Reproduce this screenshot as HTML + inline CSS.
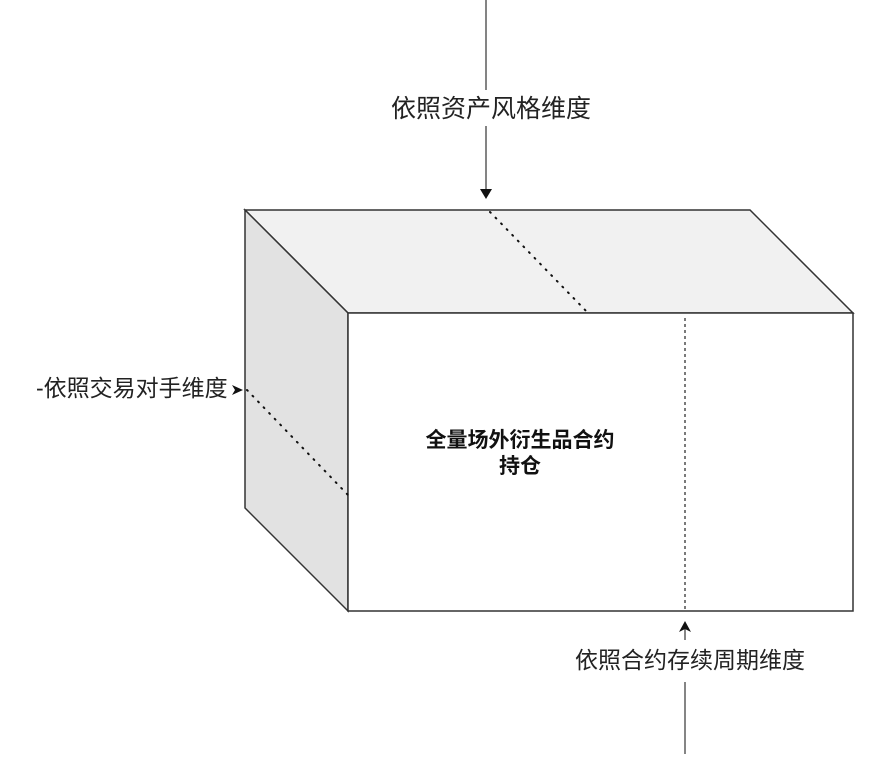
<!DOCTYPE html>
<html><head><meta charset="utf-8"><style>
body{margin:0;background:#fff;}
svg text{font-family:"Liberation Sans","Noto Sans CJK SC",sans-serif;}
</style></head><body>
<svg width="870" height="754" xmlns="http://www.w3.org/2000/svg">
<polygon points="245,210 750,210 853,313 348,313" fill="#f1f1f1" stroke="#333" stroke-width="1.5"/>
<polygon points="245,210 348,313 348,611 245,508" fill="#e2e2e2" stroke="#333" stroke-width="1.5"/>
<rect x="348" y="313" width="505" height="298" fill="#fff" stroke="#333" stroke-width="1.5"/>
<line x1="490" y1="212" x2="588" y2="313" stroke="#111" stroke-width="2" stroke-dasharray="1,7" stroke-linecap="round"/>
<line x1="247" y1="390" x2="348" y2="495" stroke="#111" stroke-width="2" stroke-dasharray="1,7" stroke-linecap="round"/>
<line x1="685" y1="318" x2="685" y2="611" stroke="#222" stroke-width="1.2" stroke-dasharray="3,3"/>
<line x1="486" y1="0" x2="486" y2="90" stroke="#333" stroke-width="1.2"/>
<line x1="486" y1="126" x2="486" y2="190" stroke="#333" stroke-width="1.2"/>
<polygon points="480,189 492,189 486,199" fill="#111"/>
<text x="491" y="117" font-size="25" text-anchor="middle" fill="#222">依照资产风格维度</text>
<text x="36" y="396" font-size="23" fill="#222">-依照交易对手维度</text>
<polygon points="232,385 243,390 232,395 235,390" fill="#111"/>
<line x1="685" y1="628" x2="685" y2="640" stroke="#333" stroke-width="1.2"/>
<line x1="685" y1="682" x2="685" y2="754" stroke="#333" stroke-width="1.2"/>
<polygon points="679,632 685,621 691,632 685,629" fill="#111"/>
<text x="690" y="668" font-size="23" text-anchor="middle" fill="#222">依照合约存续周期维度</text>
<text x="520" y="447" font-size="21" font-weight="bold" text-anchor="middle" fill="#111">全量场外衍生品合约</text>
<text x="520" y="473" font-size="21" font-weight="bold" text-anchor="middle" fill="#111">持仓</text>
</svg>
</body></html>
